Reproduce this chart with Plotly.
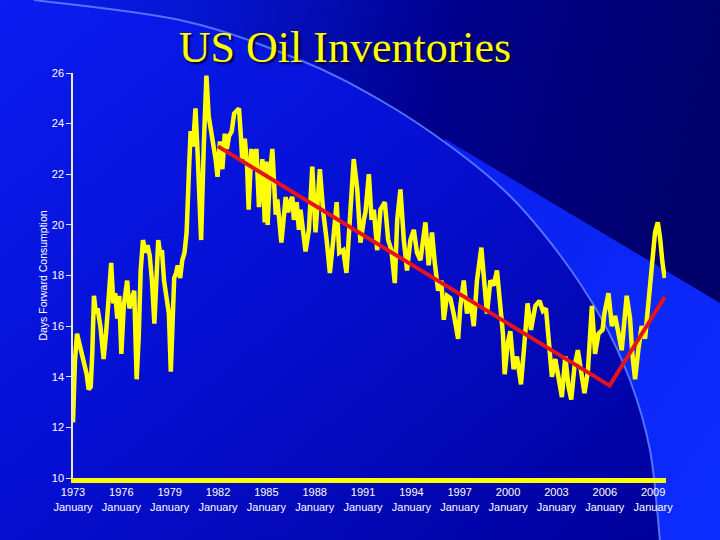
import base64
import plotly.graph_objects as go

# monthly-ish readings of days of forward consumption (decimal years)
years = [
    1973.00, 1973.12, 1973.25, 1973.40, 1973.55, 1973.68, 1973.85, 1973.97,
    1974.10, 1974.20, 1974.30, 1974.42, 1974.52, 1974.70, 1974.90, 1975.05,
    1975.15, 1975.37, 1975.50, 1975.62, 1975.75, 1975.87, 1976.00, 1976.15,
    1976.36, 1976.50, 1976.66, 1976.80, 1976.95, 1977.08, 1977.20, 1977.34,
    1977.50, 1977.62, 1977.76, 1977.90, 1978.05, 1978.17, 1978.29, 1978.42,
    1978.52, 1978.65, 1978.80, 1978.95, 1979.07, 1979.17, 1979.28, 1979.40,
    1979.50, 1979.65, 1979.78, 1979.92, 1980.05, 1980.20, 1980.30, 1980.45,
    1980.60, 1980.75, 1980.95, 1981.12, 1981.28, 1981.42, 1981.55, 1981.70,
    1981.85, 1981.97, 1982.12, 1982.27, 1982.42, 1982.55, 1982.68, 1982.85,
    1983.00, 1983.15, 1983.30, 1983.42, 1983.50, 1983.66, 1983.80, 1983.90,
    1984.07, 1984.22, 1984.38, 1984.54, 1984.75, 1984.90, 1985.00, 1985.08,
    1985.20, 1985.37, 1985.58, 1985.68, 1985.93, 1986.20, 1986.35, 1986.47,
    1986.61, 1986.71, 1986.88, 1987.02, 1987.12, 1987.43, 1987.64, 1987.85,
    1988.05, 1988.32, 1988.53, 1988.74, 1988.94, 1989.15, 1989.36, 1989.52,
    1989.77, 1989.97, 1990.18, 1990.42, 1990.64, 1990.84, 1991.05, 1991.15,
    1991.36, 1991.53, 1991.67, 1991.88, 1992.08, 1992.35, 1992.56, 1992.76,
    1992.97, 1993.12, 1993.32, 1993.53, 1993.73, 1993.94, 1994.15, 1994.35,
    1994.56, 1994.87, 1995.07, 1995.28, 1995.45, 1995.66, 1995.86, 1996.01,
    1996.21, 1996.42, 1996.62, 1996.90, 1997.04, 1997.25, 1997.45, 1997.66,
    1997.87, 1998.07, 1998.34, 1998.55, 1998.69, 1998.90, 1999.10, 1999.31,
    1999.52, 1999.68, 1999.79, 1999.97, 2000.14, 2000.34, 2000.55, 2000.80,
    2001.00, 2001.21, 2001.42, 2001.69, 2001.95, 2002.16, 2002.35, 2002.51,
    2002.72, 2002.93, 2003.13, 2003.34, 2003.55, 2003.75, 2003.92, 2004.12,
    2004.33, 2004.54, 2004.74, 2004.95, 2005.20, 2005.40, 2005.61, 2005.86,
    2005.98, 2006.23, 2006.44, 2006.64, 2006.85, 2007.05, 2007.36, 2007.57,
    2007.71, 2007.88, 2008.09, 2008.29, 2008.50, 2008.71, 2008.91, 2009.12,
    2009.29, 2009.43, 2009.58, 2009.72,
]
days_cover = [
    12.2, 14.6, 15.7, 15.3, 14.9, 14.4, 14.1, 13.5,
    13.6, 15.0, 17.2, 16.5, 16.7, 16.0, 14.7, 15.7,
    16.7, 18.5, 16.9, 17.3, 16.3, 17.2, 14.9, 16.8,
    17.8, 16.7, 17.1, 17.4, 13.9, 15.6, 18.2, 19.4,
    18.9, 19.2, 18.8, 17.8, 16.1, 18.0, 19.4, 18.8,
    19.0, 17.8, 17.0, 16.5, 14.2, 16.0, 17.9, 18.1,
    18.4, 17.9, 18.6, 18.9, 19.7, 22.2, 23.7, 23.1,
    24.6, 22.6, 19.4, 23.2, 25.9, 24.3, 23.8, 23.4,
    22.6, 21.9, 23.3, 22.2, 23.6, 23.0, 23.5, 23.7,
    24.4, 24.5, 24.6, 23.5, 22.6, 23.4, 22.4, 20.6,
    23.0, 22.2, 23.0, 20.7, 22.6, 20.1, 22.5, 20.0,
    21.8, 23.0, 20.4, 21.0, 19.3, 21.1, 20.5, 20.9,
    21.1, 20.2, 20.9, 19.8, 20.6, 18.95, 19.8, 22.3,
    19.7, 22.2, 20.5, 19.4, 18.1, 19.4, 20.9, 18.9,
    19.0, 18.1, 20.5, 22.6, 21.4, 19.3, 20.2, 20.5,
    22.0, 20.2, 20.6, 19.0, 20.6, 20.9, 19.4, 19.0,
    17.7, 20.2, 21.4, 19.4, 18.2, 19.4, 19.8, 18.9,
    18.6, 20.1, 18.4, 19.7, 18.5, 17.4, 17.8, 16.25,
    17.2, 17.1, 16.5, 15.5, 16.8, 17.8, 16.5, 17.0,
    16.0, 17.8, 19.1, 17.2, 16.5, 17.8, 17.6, 18.2,
    16.6, 15.7, 14.1, 15.3, 15.8, 14.3, 14.8, 13.7,
    15.2, 16.9, 15.85, 16.8, 17.0, 16.6, 16.7, 15.5,
    14.0, 14.7, 14.0, 13.2, 14.8, 13.6, 13.1, 14.4,
    15.05, 14.15, 13.35, 14.2, 16.8, 14.9, 15.7, 15.85,
    16.5, 17.3, 16.0, 16.4, 15.7, 15.05, 17.2, 16.3,
    14.9, 13.9, 15.1, 16.0, 15.5, 17.1, 18.35, 19.7,
    20.1, 19.5, 18.5, 17.9,
]

# hand-drawn trend line
trend_years = [1982.0, 2006.3, 2009.72]
trend_days = [23.1, 13.65, 17.15]

tick_years = [1973, 1976, 1979, 1982, 1985, 1988, 1991, 1994, 1997, 2000, 2003, 2006, 2009]
tick_labels = [f"{y}<br>January" for y in tick_years]
y_ticks = [10, 12, 14, 16, 18, 20, 22, 24, 26]

W, H = 720, 540
ML, MR, MT, MB = 73, 54, 73, 62


def smooth_path(pts):
    # catmull-rom through the points, written as cubic beziers
    d = ""
    for i in range(len(pts) - 1):
        p0 = pts[i - 1] if i > 0 else pts[i]
        p1, p2 = pts[i], pts[i + 1]
        p3 = pts[i + 2] if i + 2 < len(pts) else p2
        c1 = (p1[0] + (p2[0] - p0[0]) / 6, p1[1] + (p2[1] - p0[1]) / 6)
        c2 = (p2[0] - (p3[0] - p1[0]) / 6, p2[1] - (p3[1] - p1[1]) / 6)
        d += f"C {c1[0]:.1f},{c1[1]:.1f} {c2[0]:.1f},{c2[1]:.1f} {p2[0]},{p2[1]} "
    return d


# slide background: gradient, big circle and a light diagonal band
arc = [(34, 0), (184, 21), (300, 60), (380, 100), (450, 146), (510, 196),
       (560, 255), (600, 316), (630, 380), (650, 450), (660, 540)]
curve = smooth_path(arc)
start = f"{arc[0][0]},{arc[0][1]}"
svg = f"""<svg xmlns="http://www.w3.org/2000/svg" width="{W}" height="{H}" viewBox="0 0 {W} {H}">
<defs>
<linearGradient id="outer" x1="0" y1="0" x2="1" y2="0.2">
<stop offset="0" stop-color="#0a1ef0"/><stop offset="0.3" stop-color="#0614cc"/>
<stop offset="0.62" stop-color="#00008c"/><stop offset="1" stop-color="#00006a"/>
</linearGradient>
<linearGradient id="inner" x1="0" y1="0" x2="1" y2="1">
<stop offset="0" stop-color="#0a1cf0"/><stop offset="0.45" stop-color="#0610d4"/>
<stop offset="1" stop-color="#00009a"/>
</linearGradient>
<linearGradient id="band" x1="0" y1="0" x2="1" y2="1">
<stop offset="0" stop-color="#0a20ee"/><stop offset="1" stop-color="#0c2cff"/>
</linearGradient>
</defs>
<rect x="0" y="0" width="{W}" height="{H}" fill="url(#outer)"/>
<polygon points="445,139 720,303 720,540 445,540" fill="url(#band)"/>
<path d="M 0,0 L {start} {curve} L 0,540 Z" fill="url(#inner)"/>
<path d="M {start} {curve}" fill="none" stroke="#5272ff" stroke-width="2"/>
</svg>"""
bg_src = "data:image/svg+xml;base64," + base64.b64encode(svg.encode()).decode()

pw, ph = W - ML - MR, H - MT - MB

fig = go.Figure()
fig.add_trace(go.Scatter(
    x=years, y=days_cover, mode="lines",
    line=dict(color="#ffff00", width=4.5), hoverinfo="skip"
))
fig.add_trace(go.Scatter(
    x=trend_years, y=trend_days, mode="lines",
    line=dict(color="#e3141c", width=4), hoverinfo="skip"
))

fig.add_layout_image(
    source=bg_src, xref="paper", yref="paper",
    x=-ML / pw, y=1 + MT / ph, sizex=W / pw, sizey=H / ph,
    xanchor="left", yanchor="top", sizing="stretch", layer="below"
)

fig.update_layout(
    width=W, height=H,
    margin=dict(l=ML, r=MR, t=MT, b=MB),
    paper_bgcolor="#0514d0",
    plot_bgcolor="rgba(0,0,0,0)",
    showlegend=False,
    hovermode=False,
    title=dict(
        text="US Oil Inventories", x=345 / W, y=1 - 47 / H,
        xanchor="center", yanchor="middle",
        font=dict(family="Liberation Serif", size=44, color="#ffff00",
                  shadow="2px 2px 2px #000030")
    ),
    xaxis=dict(
        range=[1973, 2009.8], tickvals=tick_years, ticktext=tick_labels,
        showgrid=False, zeroline=False, ticks="",
        showline=True, linecolor="#ffff00", linewidth=5,
        tickfont=dict(family="Liberation Sans", size=11, color="#ffffff")
    ),
    yaxis=dict(
        range=[10, 26], tickvals=y_ticks,
        showgrid=False, zeroline=False,
        showline=True, linecolor="#ecebc4", linewidth=1.5,
        ticks="outside", ticklen=5, tickcolor="#ecebc4", tickwidth=1,
        tickfont=dict(family="Liberation Sans", size=11, color="#ffffff"),
        title=dict(text="Days Forward Consumption", standoff=2,
                   font=dict(family="Liberation Sans", size=10.5, color="#ffffff"))
    ),
)

# the page body has an 8px default margin; drop it so the slide fills the window
fig.write_html("out.html", config={"displayModeBar": False},
               post_script="document.body.style.margin='0';")
